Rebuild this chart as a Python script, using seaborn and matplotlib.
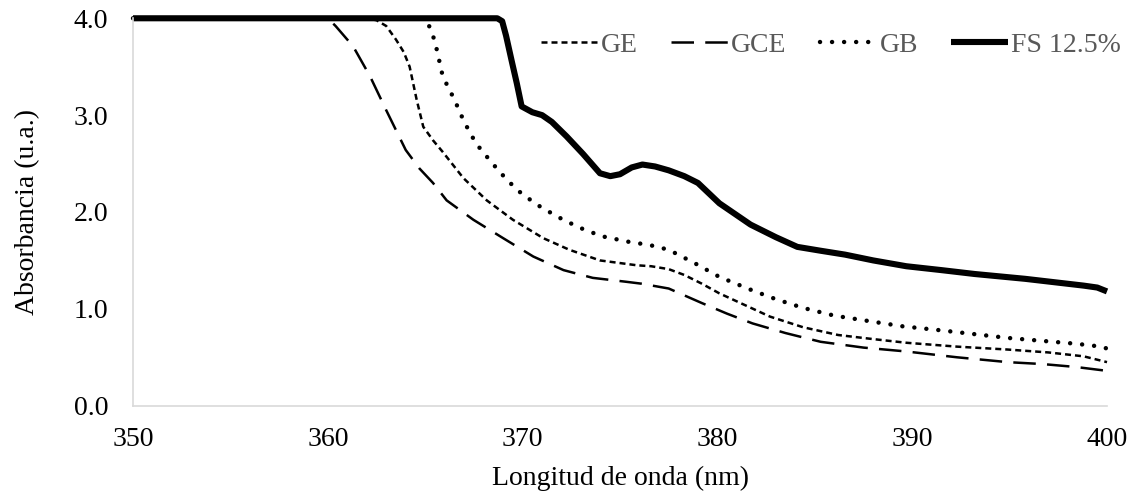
import numpy as np
import pandas as pd
import matplotlib
matplotlib.use("Agg")
import matplotlib.pyplot as plt
import seaborn as sns

# ---- data ----
ge_x = [350, 362.0, 362.5, 363.0, 363.5, 363.9, 364.2, 364.56, 364.9, 365.4, 365.9, 366.96, 368.16,
        369.5, 371.06, 372.4, 373.97, 375.86, 376.6, 377.5, 378.3, 379.2, 380.1, 381.4, 382.7,
        384.4, 386.2, 387.9, 389.7, 392.3, 394.9, 397.0, 398.8, 400]
ge_y = [4.0, 4.0, 3.98, 3.92, 3.78, 3.65, 3.50, 3.16, 2.88, 2.74, 2.62, 2.35, 2.12,
        1.92, 1.73, 1.61, 1.50, 1.45, 1.44, 1.41, 1.35, 1.26, 1.16, 1.04, 0.92,
        0.81, 0.73, 0.69, 0.65, 0.61, 0.58, 0.55, 0.51, 0.45]

gce_x = [350, 360.0, 360.4, 361.3, 362.17, 363.0, 364.0, 364.7, 365.4, 366.1, 367.47, 369.0,
         370.55, 372.1, 373.6, 375.3, 376.1, 377.5, 379.2, 380.5, 381.8, 383.5, 385.3, 387.5,
         389.7, 392.3, 394.9, 396.7, 398.4, 400]
gce_y = [4.0, 4.0, 3.92, 3.71, 3.40, 3.05, 2.64, 2.45, 2.30, 2.12, 1.92, 1.73,
         1.54, 1.40, 1.32, 1.28, 1.26, 1.21, 1.06, 0.95, 0.85, 0.75, 0.66, 0.60,
         0.56, 0.50, 0.45, 0.43, 0.40, 0.36]

gb_x = [350, 365.0, 365.25, 365.5, 365.9, 366.5, 367.0, 367.6, 368.0, 368.84, 369.7, 370.7,
        371.8, 372.9, 374.06, 375.5, 376.5, 377.5, 378.85, 380.1, 381.8, 383.0, 384.4, 386.0,
        387.9, 389.5, 391.4, 394.9, 398.4, 399.7, 400]
gb_y = [4.0, 4.0, 3.90, 3.76, 3.40, 3.16, 2.93, 2.71, 2.61, 2.41, 2.23, 2.08,
        1.95, 1.84, 1.75, 1.69, 1.66, 1.61, 1.47, 1.33, 1.19, 1.10, 1.01, 0.93,
        0.87, 0.82, 0.78, 0.70, 0.64, 0.61, 0.59]

fs_x = [350, 368.7, 368.95, 369.15, 369.45, 369.7, 369.95, 370.5, 371.0, 371.5, 372.26, 373.1,
        373.97, 374.5, 375.0, 375.6, 376.15, 376.8, 377.5, 378.3, 379.0, 380.1, 381.7, 383.0,
        384.1, 385.3, 386.55, 388.0, 389.7, 391.5, 393.2, 395.8, 398.8, 399.5, 400]
fs_y = [4.0, 4.0, 3.97, 3.82, 3.55, 3.33, 3.09, 3.03, 3.00, 2.93, 2.78, 2.60,
        2.40, 2.37, 2.39, 2.46, 2.49, 2.47, 2.43, 2.37, 2.30, 2.09, 1.87, 1.74,
        1.64, 1.60, 1.56, 1.50, 1.44, 1.40, 1.36, 1.31, 1.24, 1.22, 1.18]

series_names = ["GE", "GCE", "GB", "FS 12.5%"]
x_ticks = [350, 360, 370, 380, 390, 400]
y_ticks = [0.0, 1.0, 2.0, 3.0, 4.0]

# ---- style ----
sns.set_theme(style="white")
plt.rcParams["font.family"] = ["Liberation Serif", "DejaVu Serif"]

FS = 20

fig = plt.figure(figsize=(11.34, 4.98), dpi=100)
ax = fig.add_axes([0.1173, 0.1853, 0.9762 - 0.1173, 0.9633 - 0.1853])

styles = [
    dict(lw=1.8, dashes=(2.4, 1.6), capstyle="butt"),
    dict(lw=1.8, dashes=(9, 4.5), capstyle="butt"),
    dict(lw=3.2, dashes=(0.01, 2.7), capstyle="round"),
    dict(lw=4.4, dashes=None, capstyle="round"),
]
data_sets = [(ge_x, ge_y), (gce_x, gce_y), (gb_x, gb_y), (fs_x, fs_y)]

for name, (xs, ys), st in zip(series_names, data_sets, styles):
    df = pd.DataFrame({"x": xs, "y": ys})
    sns.lineplot(data=df, x="x", y="y", ax=ax, color="black", lw=st["lw"],
                 label=name, sort=False, estimator=None)
    line = ax.lines[-1]
    line.set_solid_joinstyle("round")
    line.set_dash_joinstyle("round")
    if st["dashes"] is not None:
        line.set_dashes(st["dashes"])
        line.set_dash_capstyle(st["capstyle"])
    else:
        line.set_solid_capstyle("butt")

ax.set_xlim(350, 400)
ax.set_ylim(0, 4.0)
ax.set_xticks(x_ticks)
ax.set_yticks(y_ticks)
ax.set_yticklabels([f"{v:.1f}" for v in y_ticks])
ax.tick_params(axis="both", length=0, labelsize=FS, labelcolor="black")
ax.tick_params(axis="x", pad=15)
ax.tick_params(axis="y", pad=18)

for side in ["top", "right"]:
    ax.spines[side].set_visible(False)
for side in ["left", "bottom"]:
    ax.spines[side].set_color("#d9d9d9")
    ax.spines[side].set_linewidth(1.2)
for ln in ax.lines:
    ln.set_clip_on(False)

ax.set_xlabel("Longitud de onda (nm)", fontsize=FS, color="black", labelpad=10)
ax.set_ylabel("Absorbancia (u.a.)", fontsize=FS, color="black", labelpad=24)

leg = ax.legend(loc="center right", bbox_to_anchor=(1121 / 1134, 1 - 45 / 498),
                bbox_transform=fig.transFigure, ncol=4, frameon=False,
                fontsize=FS, handlelength=2.05, handletextpad=0.1, columnspacing=1.2,
                borderaxespad=0.0, borderpad=0.0)
for t in leg.get_texts():
    t.set_color("#595959")

fig.savefig("out.png", dpi=100)
